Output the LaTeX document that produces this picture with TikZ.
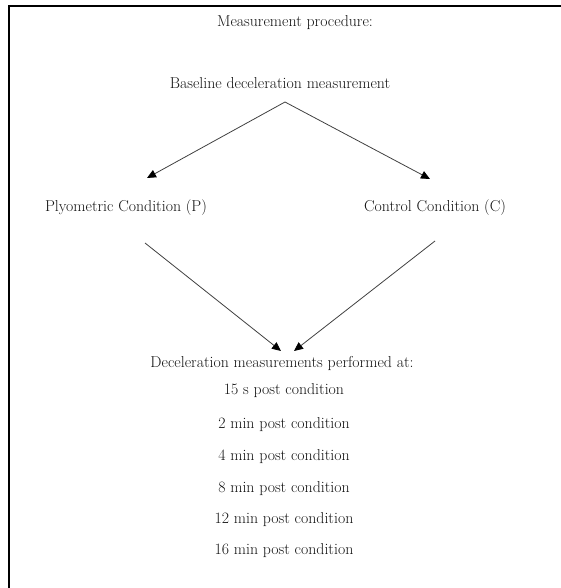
\documentclass[tikz,border=0pt]{standalone}
\usetikzlibrary{arrows.meta,positioning}
\definecolor{linegray}{HTML}{404040}
\definecolor{textgray}{HTML}{141414}

\begin{document}
\begin{tikzpicture}[x=1pt,y=-1pt,
  label text/.style={font=\fontsize{15.8}{18}\selectfont,inner sep=0pt,text=textgray},
  flow arrow/.style={linegray,line width=0.8pt,-{Triangle[length=9pt,width=8pt,color=black]}}]
  \useasboundingbox (0,0) rectangle (561,588);
  % frame (top and left edges only)
  \draw[line width=2.4pt] (561,6) -- (9,6) -- (9,588);

  % titles
  \node[label text] (title) at (295,23) {Measurement procedure:};
  \node[label text] (base) at (280,83) {Baseline deceleration measurement};
  \coordinate (split) at ([xshift=5pt,yshift=-19pt]base.center);

  % the two conditions
  \node[label text] (plyo) at (126,208) {Plyometric Condition (P)};
  \node[label text] (ctrl) at (435,208) {Control Condition (C)};
  \draw[flow arrow] (split) -- ([xshift=21pt,yshift=30pt]plyo.center);
  \draw[flow arrow] (split) -- ([xshift=-5pt,yshift=29pt]ctrl.center);

  % measurements after condition
  \node[label text] (dec) at (282,363) {Deceleration measurements performed at:};
  \draw[flow arrow] ([xshift=19pt,yshift=-35pt]plyo.center) -- ([xshift=-1pt,yshift=12pt]dec.center);
  \draw[flow arrow] ([xshift=0pt,yshift=-33pt]ctrl.center) -- ([xshift=12pt,yshift=12pt]dec.center);
  \foreach \n/\y/\t in {t1/391/15 s, t2/425/2 min, t3/457/4 min,
                        t4/489/8 min, t5/520/12 min, t6/551/16 min} {
    \node[label text] (\n) at (284,\y) {\t\ post condition};
  }
\end{tikzpicture}
\end{document}
